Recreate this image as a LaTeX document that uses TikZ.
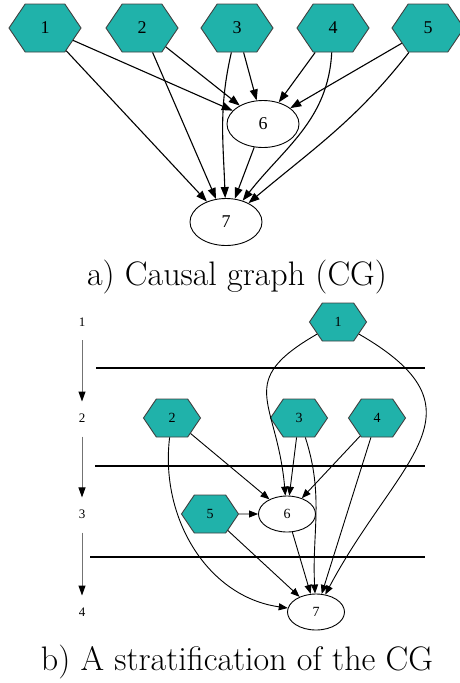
\documentclass[tikz,border=0pt]{standalone}
\usepackage{fontspec}
\newfontfamily\dotfont{Liberation Serif}
\usepackage{xcolor}
\usepackage{tikz}
\usetikzlibrary{arrows.meta,shapes.geometric,shapes.symbols}

\definecolor{cgteal}{RGB}{32,178,170}

\begin{document}
\begin{tikzpicture}[
  x=1pt, y=-1pt,
  var/.style={
    draw=black!75,
    fill=cgteal,
    signal,
    signal to=west and east,
    signal pointer angle=112,
    inner sep=0pt,
    line width=0.9pt
  },
  bigvar/.style={var, minimum width=72pt, minimum height=48pt, font=\dotfont\fontsize{18}{18}\selectfont},
  smallvar/.style={var, minimum width=57pt, minimum height=38pt, font=\dotfont\fontsize{14}{14}\selectfont},
  outcome/.style={draw, ellipse, inner sep=0pt, line width=0.9pt},
  bigout/.style={outcome, minimum width=72pt, minimum height=47pt, font=\dotfont\fontsize{18}{18}\selectfont},
  smallout/.style={outcome, minimum width=57pt, minimum height=36pt, font=\dotfont\fontsize{14}{14}\selectfont},
  link/.style={-{Triangle[length=11pt,width=8pt]}, line width=1.1pt},
  smalllink/.style={-{Triangle[length=9pt,width=7pt]}, line width=0.9pt},
  level/.style={font=\dotfont\fontsize{13}{13}\selectfont, inner sep=0pt},
  levelarrow/.style={draw=black!55, line width=1pt, -{Triangle[length=10pt,width=7pt,color=black]}},
  cut/.style={line width=2.8pt},
  caption/.style={font=\fontsize{34}{40}\selectfont}
]
\useasboundingbox (0,0) rectangle (459,683);

% a) causal graph
\node[bigvar] (a1) at (45,28) {1};
\node[bigvar] (a2) at (142,28) {2};
\node[bigvar] (a3) at (237,28) {3};
\node[bigvar] (a4) at (333,28) {4};
\node[bigvar] (a5) at (428,28) {5};
\node[bigout] (a6) at (263,124) {6};
\node[bigout] (a7) at (226,222) {7};

\draw[link] (a1) -- (a6);
\draw[link] (a1) -- (a7);
\draw[link] (a2) -- (a6);
\draw[link] (a2) -- (a7);
\draw[link] (a3) -- (a6);
\draw[link] (a3) to[out=-103,in=92] (a7);
\draw[link] (a4) -- (a6);
\draw[link] (a4) to[out=-93,in=52] (a7);
\draw[link] (a5) -- (a6);
\draw[link] (a5) to[out=-128,in=40] (a7);
\draw[link] (a6) -- (a7);

\node[caption] (capa) at (237,277) {a) Causal graph (CG)};

% b) stratification
\node[level] (lv1) at (82,322) {1};
\node[level] (lv2) at (82,418) {2};
\node[level] (lv3) at (82,514) {3};
\node[level] (lv4) at (82,612) {4};
\draw[levelarrow, shorten <=14pt, shorten >=12pt] (lv1) -- (lv2);
\draw[levelarrow, shorten <=14pt, shorten >=12pt] (lv2) -- (lv3);
\draw[levelarrow, shorten <=14pt, shorten >=12pt] (lv3) -- (lv4);

\draw[cut] (96,368) -- (425,368);
\draw[cut] (95,466) -- (425,466);
\draw[cut] (90,557) -- (425,557);

\node[smallvar] (b1) at (338,322) {1};
\node[smallvar] (b2) at (172,418) {2};
\node[smallvar] (b3) at (299,418) {3};
\node[smallvar] (b4) at (377,418) {4};
\node[smallvar] (b5) at (210,514) {5};
\node[smallout] (b6) at (287,514) {6};
\node[smallout] (b7) at (316,612) {7};

\draw[smalllink] (b1) to[out=-150,in=95,looseness=1.5] (b6);
\draw[smalllink] (b1) to[out=-30,in=62,looseness=1.5] (b7);
\draw[smalllink] (b2) -- (b6);
\draw[smalllink] (b2) to[out=-97,in=172] (b7);
\draw[smalllink] (b3) -- (b6);
\draw[smalllink] (b3) to[out=-72,in=93] (b7);
\draw[smalllink] (b4) -- (b6);
\draw[smalllink] (b4) -- (b7);
\draw[smalllink] (b5) -- (b6);
\draw[smalllink] (b5) -- (b7);
\draw[smalllink] (b6) -- (b7);

\node[caption] (capb) at (237,662) {b) A stratification of the CG};
\end{tikzpicture}
\end{document}
